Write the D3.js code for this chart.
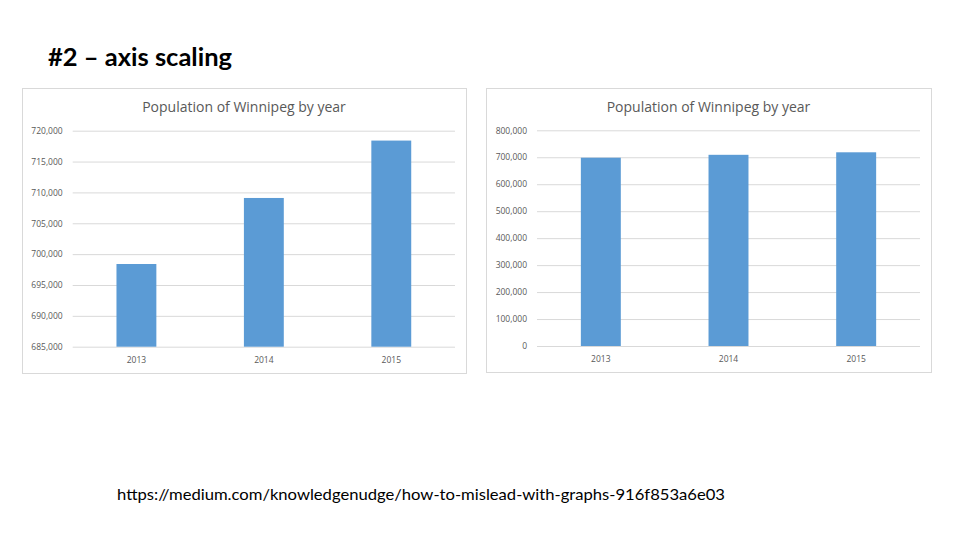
<!DOCTYPE html>
<html><head><meta charset="utf-8">
<script src="https://cdn.jsdelivr.net/npm/d3@7"></script>
<style>body{margin:0;background:#fff}svg{display:block}</style>
</head><body>
<svg id="s" width="960" height="540"></svg>
<script>
const years = ["2013", "2014", "2015"];
const population = [698400, 709100, 718400];
const leftTicks = [685000, 690000, 695000, 700000, 705000, 710000, 715000, 720000];
const rightTicks = [0, 100000, 200000, 300000, 400000, 500000, 600000, 700000, 800000];
const chartTitle = "Population of Winnipeg by year";
const slideTitle = "#2 – axis scaling";
const sourceUrl = "https://medium.com/knowledgenudge/how-to-mislead-with-graphs-916f853a6e03";

const svg = d3.select("#s");
const fmt = d3.format(",");
const font = "'Open Sans', 'Noto Sans', sans-serif";

svg.append("text").attr("x", 48).attr("y", 66)
  .attr("font-family", "Lato, 'Open Sans', sans-serif").attr("font-weight", "bold")
  .attr("font-size", 24).attr("fill", "#000")
  .attr("textLength", 184).attr("lengthAdjust", "spacingAndGlyphs")
  .text(slideTitle);

svg.append("text").attr("x", 117).attr("y", 500)
  .attr("font-family", "Lato, 'Open Sans', sans-serif")
  .attr("font-size", 16).attr("fill", "#000")
  .attr("textLength", 608).attr("lengthAdjust", "spacingAndGlyphs")
  .text(sourceUrl);

function drawChart(o) {
  const g = svg.append("g");
  g.append("rect").attr("x", o.px + 0.5).attr("y", o.py + 0.5)
    .attr("width", o.pw).attr("height", o.ph)
    .attr("fill", "#fff").attr("stroke", "#d9d9d9");
  g.append("text").attr("x", o.px + o.pw / 2).attr("y", o.py + 24)
    .attr("text-anchor", "middle").attr("font-family", font)
    .attr("font-size", 14).attr("fill", "#595959").text(chartTitle);

  const x = d3.scaleBand().domain(years).range([o.x0, o.x1])
    .paddingInner(0.687).paddingOuter(0.3435);
  const y = d3.scaleLinear().domain(o.domain).range([o.y0, o.y1]);

  const grid = d3.axisLeft(y).tickValues(o.ticks).tickSize(-(o.x1 - o.x0)).tickFormat(fmt).tickPadding(10);
  const ga = g.append("g").attr("transform", `translate(${o.x0},0)`).call(grid);
  ga.select(".domain").remove();
  ga.selectAll(".tick line").attr("stroke", "#d9d9d9");
  ga.selectAll(".tick text").attr("font-family", font).attr("font-size", 8.5).attr("fill", "#595959");

  g.selectAll("rect.bar").data(population).join("rect").attr("class", "bar")
    .attr("x", (d, i) => x(years[i])).attr("width", x.bandwidth())
    .attr("y", d => y(d)).attr("height", d => y(o.domain[0]) - y(d))
    .attr("fill", "#5b9bd5");

  const xa = d3.axisBottom(x).tickSize(0).tickPadding(10);
  const gx = g.append("g").attr("transform", `translate(0,${o.y0})`).call(xa);
  gx.select(".domain").remove();
  gx.selectAll(".tick text").attr("font-family", font).attr("font-size", 8.5).attr("fill", "#595959");
}

drawChart({px: 22, py: 88, pw: 444, ph: 285, x0: 72.7, x1: 455, y0: 346.7, y1: 130.7,
  domain: [685000, 720000], ticks: leftTicks});
drawChart({px: 486, py: 88, pw: 445, ph: 284, x0: 537, x1: 920, y0: 346, y1: 130.3,
  domain: [0, 800000], ticks: rightTicks});
</script>
</body></html>
